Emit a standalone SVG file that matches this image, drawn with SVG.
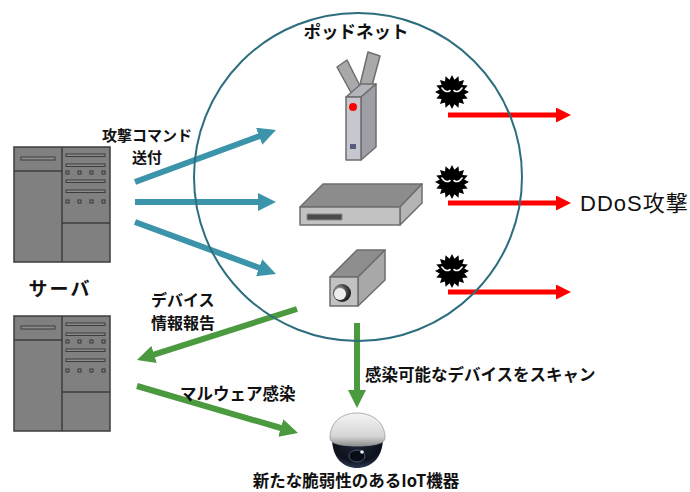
<svg xmlns="http://www.w3.org/2000/svg" width="690" height="492" viewBox="0 0 690 492">
  <style>
    .jp { font-family: "Noto Sans CJK JP", "Noto Sans", sans-serif; font-weight: 700; fill: #111; }
    .teal { stroke: #3b94aa; stroke-width: 6; fill: none; marker-end: url(#headTeal); }
    .green { stroke: #4b9a3f; stroke-width: 6; fill: none; marker-end: url(#headGreen); }
    .red { stroke: #ff0000; stroke-width: 5; fill: none; marker-end: url(#headRed); }
    .srv { fill: #808080; stroke: #3c3c3c; stroke-width: 1.5; }
    .srvln { stroke: #3c3c3c; stroke-width: 1.5; fill: none; }
    .bar { fill: #8c8c8c; stroke: #3c3c3c; stroke-width: 1; }
    .dot { fill: #8c8c8c; stroke: #333; stroke-width: 1; }
    .dev { stroke: #6e6e6e; stroke-width: 1.5; stroke-linejoin: round; }
  </style>
  <defs>
    <marker id="headTeal" viewBox="0 0 10 10" refX="2" refY="5" markerWidth="3" markerHeight="3" orient="auto" markerUnits="strokeWidth">
      <path d="M0,0 L10,5 L0,10 z" fill="#3b94aa"/>
    </marker>
    <marker id="headGreen" viewBox="0 0 10 10" refX="2" refY="5" markerWidth="3" markerHeight="3" orient="auto" markerUnits="strokeWidth">
      <path d="M0,0 L10,5 L0,10 z" fill="#4b9a3f"/>
    </marker>
    <marker id="headRed" viewBox="0 0 10 10" refX="2" refY="5" markerWidth="3" markerHeight="3" orient="auto" markerUnits="strokeWidth">
      <path d="M0,0 L10,5 L0,10 z" fill="#ff0000"/>
    </marker>

    <!-- rack server, 96 x 115 -->
    <g id="server">
      <rect class="srv" x="0" y="0" width="96" height="115"/>
      <path class="srvln" d="M48,0 V115 M0,24 H48 M48,76 H96"/>
      <rect class="bar" x="7" y="10" width="34" height="3"/>
      <rect class="bar" x="52" y="7" width="39" height="2.5"/>
      <rect class="bar" x="52" y="17" width="39" height="2.5"/>
      <rect class="bar" x="52" y="33" width="39" height="2.5"/>
      <rect class="bar" x="52" y="43" width="39" height="2.5"/>
      <rect class="dot" x="52" y="24" width="3" height="3"/>
      <rect class="dot" x="64" y="24" width="3" height="3"/>
      <rect class="dot" x="76" y="24" width="3" height="3"/>
      <rect class="dot" x="88" y="24" width="3" height="3"/>
      <rect class="dot" x="52" y="53" width="3" height="3"/>
      <rect class="dot" x="64" y="53" width="3" height="3"/>
      <rect class="dot" x="76" y="53" width="3" height="3"/>
      <rect class="dot" x="88" y="53" width="3" height="3"/>
    </g>

    <!-- malware bug -->
    <g id="virus">
      <polygon fill="#000" points="17,0 12.26,2.44 15.71,6.51 10.39,6.95 12.02,12.02 6.95,10.39 6.51,15.71 2.44,12.26 0,17 -2.44,12.26 -6.51,15.71 -6.95,10.39 -12.02,12.02 -10.39,6.95 -15.71,6.51 -12.26,2.44 -17,0 -12.26,-2.44 -15.71,-6.51 -10.39,-6.95 -12.02,-12.02 -6.95,-10.39 -6.51,-15.71 -2.44,-12.26 0,-17 2.44,-12.26 6.51,-15.71 6.95,-10.39 12.02,-12.02 10.39,-6.95 15.71,-6.51 12.26,-2.44"/>
      <path d="M-10,-4 Q-6,1.5 -2,-1.5 M10,-4 Q6,1.5 2,-1.5" stroke="#fff" stroke-width="1.6" fill="none" stroke-linecap="round"/>
    </g>

    <radialGradient id="lensRing" cx="0.35" cy="0.4" r="0.7">
      <stop offset="0" stop-color="#d8d8d8"/>
      <stop offset="0.5" stop-color="#555"/>
      <stop offset="1" stop-color="#111"/>
    </radialGradient>
    <linearGradient id="capGrad" x1="0" y1="0" x2="0" y2="1">
      <stop offset="0" stop-color="#f4f4f4"/>
      <stop offset="0.7" stop-color="#d6d6d6"/>
      <stop offset="1" stop-color="#8e8e8e"/>
    </linearGradient>
    <radialGradient id="domeGrad" cx="0.5" cy="0.3" r="0.75">
      <stop offset="0" stop-color="#1c2232"/>
      <stop offset="0.6" stop-color="#0e121c"/>
      <stop offset="0.9" stop-color="#2a3550"/>
      <stop offset="1" stop-color="#4a5878"/>
    </radialGradient>
  </defs>

  <!-- connectors -->
  <g id="connectors">
    <path class="teal" d="M135,182 L262.5,135"/>
    <path class="teal" d="M135,202 L261.6,202"/>
    <path class="teal" d="M135,222 L262.5,269"/>
    <path class="green" d="M297,309 L150.7,355.6"/>
    <path class="green" d="M137,386 L284.2,429"/>
    <path class="green" d="M357,323 L357,393.6"/>
    <path class="red" d="M448,115 H559"/>
    <path class="red" d="M448,203 H559"/>
    <path class="red" d="M448,292 H559"/>
  </g>

  <!-- botnet boundary -->
  <g id="botnet">
    <circle cx="358" cy="177" r="164" fill="none" stroke="#2d6e7e" stroke-width="2"/>
    <text class="jp" x="356" y="38" font-size="17.5" text-anchor="middle">ポッドネット</text>
  </g>

  <!-- C&C servers -->
  <g id="server-top">
    <use href="#server" x="14" y="147"/>
  </g>
  <g id="server-bottom">
    <use href="#server" x="14" y="316"/>
  </g>
  <g id="server-label">
    <text class="jp" x="60" y="296" font-size="19" letter-spacing="2" text-anchor="middle">サーバ</text>
  </g>

  <!-- wireless router -->
  <g id="router" class="dev">
    <polygon points="337,67 347,60 363,92 354,98" fill="#a9a9a9"/>
    <polygon points="368,52 380,56 370,93 359,89" fill="#a9a9a9"/>
    <polygon points="346,97 361,97 376,84 361,84" fill="#b4b4bc"/>
    <polygon points="361,97 376,84 376,147 361,160" fill="#9e9ea6"/>
    <rect x="346" y="97" width="15" height="63" fill="#c6c6ce"/>
    <circle cx="353" cy="107" r="4" fill="#ff0000" stroke="none"/>
    <rect x="350" y="144" width="6" height="5" fill="#555a80" stroke="none"/>
  </g>

  <!-- set-top box -->
  <g id="settopbox" class="dev">
    <polygon points="300,207 323,184 422,184 400,207" fill="#8c8c8c"/>
    <polygon points="400,207 422,184 422,203 400,225" fill="#b4b4b4"/>
    <rect x="300" y="207" width="100" height="18" fill="#c2c2c2"/>
    <rect x="307" y="214" width="35" height="6" fill="#4a4a4a" stroke="#8a8a8a" stroke-width="1"/>
  </g>

  <!-- network camera -->
  <g id="camera" class="dev">
    <polygon points="330,277 358,277 385,250 357,250" fill="#8e8e8e"/>
    <polygon points="358,277 385,250 385,280 358,306" fill="#a8a8a8"/>
    <rect x="330" y="277" width="28" height="29" fill="#c2c2c2"/>
    <circle cx="342" cy="293" r="9" fill="url(#lensRing)" stroke="none"/>
    <circle cx="340" cy="294" r="6" fill="#eeeeee" stroke="none"/>
  </g>

  <!-- malware -->
  <g id="malware-1"><use href="#virus" x="452" y="92"/></g>
  <g id="malware-2"><use href="#virus" x="452" y="182"/></g>
  <g id="malware-3"><use href="#virus" x="452" y="271"/></g>

  <!-- dome camera -->
  <g id="dome-camera">
    <path d="M332,438 C332,459 344,468 357,468 C370,468 383,459 383,438 Z" fill="url(#domeGrad)"/>
    <path d="M330,438 C330,421 343,413 357,413 C371,413 385,421 385,438 C385,444 372,446 357,446 C342,446 330,444 330,438 Z" fill="url(#capGrad)" stroke="#9a9a9a" stroke-width="0.8"/>
    <ellipse cx="357" cy="456" rx="8" ry="6" fill="#0a0d16" stroke="#4a5570" stroke-width="1"/>
    <circle cx="362" cy="452" r="1.8" fill="#e8eef8"/>
  </g>

  <!-- labels -->
  <g id="labels" class="jp">
    <text x="147" y="141" font-size="15" text-anchor="middle">攻撃コマンド</text>
    <text x="147" y="163" font-size="15" text-anchor="middle">送付</text>
    <text x="151" y="306" font-size="16">デバイス</text>
    <text x="151" y="329" font-size="16">情報報告</text>
    <text x="180" y="400" font-size="16.5">マルウェア感染</text>
    <text x="365" y="381" font-size="16.5">感染可能なデバイスをスキャン</text>
    <text x="356" y="487" font-size="16.5" text-anchor="middle">新たな脆弱性のあるIoT機器</text>
    <text x="580" y="211" font-size="22" font-weight="400" letter-spacing="1" style="font-family:'Liberation Sans','Noto Sans CJK JP',sans-serif">DDoS攻撃</text>
  </g>
</svg>
